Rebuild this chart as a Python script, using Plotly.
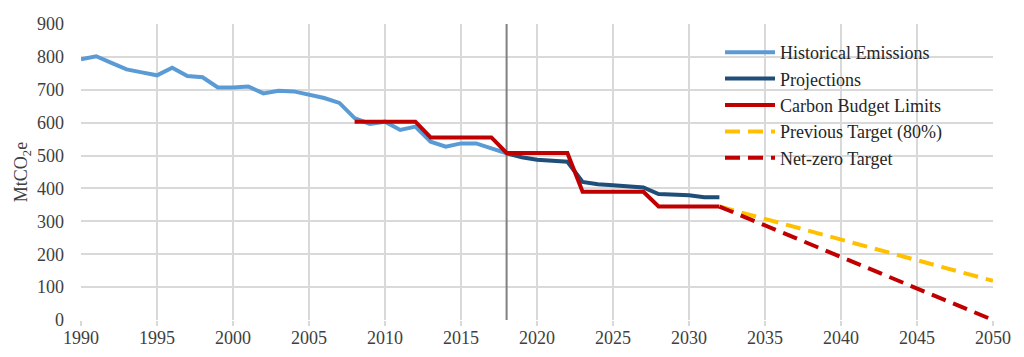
import plotly.graph_objects as go

# ---- data ----
hist_years = list(range(1990, 2019))
hist_values = [793, 802, 782, 762, 753, 744, 767, 742, 738, 707, 707, 710, 689, 697, 695,
               685, 675, 660, 614, 596, 603, 578, 588, 542, 527, 537, 537, 522, 507]

proj_years = list(range(2018, 2033))
proj_values = [507, 495, 487, 483, 481, 420, 413, 410, 407, 403, 383, 382, 379, 373, 373]

budget_years = list(range(2008, 2033))
budget_values = [603] * 5 + [555] * 5 + [508] * 5 + [390] * 5 + [345] * 5

prev_target_years = [2032, 2050]
prev_target_values = [345, 119]

netzero_years = [2032, 2050]
netzero_values = [345, 0]

divider_year = 2018

x_ticks = list(range(1990, 2051, 5))
y_ticks = list(range(0, 901, 100))

SERIF = "Liberation Serif"
TXT = "#404040"
GRID = "#d9d9d9"

# page body has an 8px margin; figure is sized to fit the 1024x357 window
OFF = 8
W, H = 1024 - 2 * OFF, 357 - 2 * OFF
PL, PR, PT, PB = 81 - OFF, 1024 - 993 - OFF, 24 - OFF, 357 - 320 - OFF
PW, PH = W - PL - PR, H - PT - PB

fig = go.Figure()
fig.add_trace(go.Scatter(x=hist_years, y=hist_values, mode="lines", name="Historical Emissions",
                         line=dict(color="#5B9BD5", width=4)))
fig.add_trace(go.Scatter(x=proj_years, y=proj_values, mode="lines", name="Projections",
                         line=dict(color="#1F4E79", width=4)))
fig.add_trace(go.Scatter(x=budget_years, y=budget_values, mode="lines", name="Carbon Budget Limits",
                         line=dict(color="#C00000", width=4)))
fig.add_trace(go.Scatter(x=prev_target_years, y=prev_target_values, mode="lines",
                         name="Previous Target (80%)",
                         line=dict(color="#FFC000", width=4, dash="15px,8px")))
fig.add_trace(go.Scatter(x=netzero_years, y=netzero_values, mode="lines", name="Net-zero Target",
                         line=dict(color="#C00000", width=4, dash="15px,8px")))

# vertical divider (below traces, above grid)
fig.add_shape(type="line", x0=divider_year, x1=divider_year, y0=0, y1=900, xref="x", yref="y",
              line=dict(color="#808080", width=2), layer="between")

# white legend background covering gridlines
fig.add_shape(type="rect", xref="paper", yref="paper",
              x0=(703 - 81) / PW, x1=(975 - 81) / PW,
              y0=(320 - 170) / PH, y1=(320 - 37) / PH,
              fillcolor="white", line=dict(width=0), layer="between")

fig.update_layout(
    width=W, height=H,
    margin=dict(l=PL, r=PR, t=PT, b=PB, autoexpand=False),
    paper_bgcolor="white", plot_bgcolor="white",
    font=dict(family=SERIF, size=18, color=TXT),
    showlegend=True,
    legend=dict(x=(720 - 81) / PW, y=(320 - 34) / PH, xanchor="left", yanchor="top",
                bgcolor="rgba(0,0,0,0)", font=dict(family=SERIF, size=18, color="#262626"),
                tracegroupgap=0, itemwidth=50),
    xaxis=dict(range=[1990, 2050], tickvals=x_ticks, showgrid=True, gridcolor=GRID, gridwidth=1.5,
               zeroline=False, showline=False, ticks="outside", ticklen=5, tickcolor=GRID,
               tickwidth=1.5, automargin=False, ticklabelstandoff=-4,
               tickfont=dict(family=SERIF, size=18, color=TXT)),
    yaxis=dict(range=[0, 900], tickvals=y_ticks, showgrid=True, gridcolor=GRID, gridwidth=1.5,
               zeroline=False, showline=False, ticklabelstandoff=16, automargin=False,
               tickfont=dict(family=SERIF, size=18, color=TXT),
               title=dict(text="MtCO<sub>2</sub>e", font=dict(family=SERIF, size=18, color=TXT),
                          standoff=4)),
)

fig.write_html("out.html")
